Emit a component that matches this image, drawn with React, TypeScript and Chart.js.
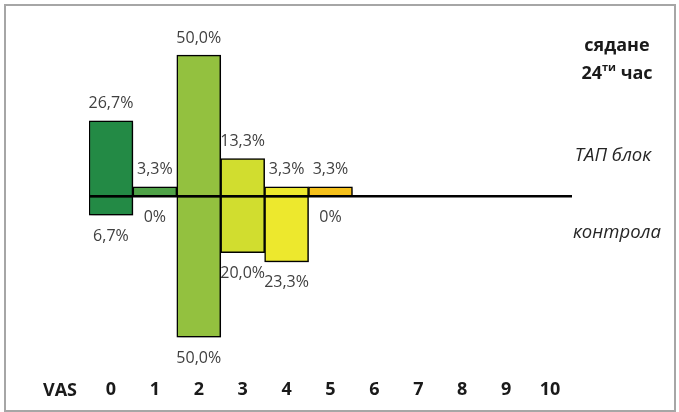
import { useEffect, useRef } from "react";
import { Chart, registerables } from "chart.js";

Chart.register(...registerables);

// ---- data ----
const vasLabels = ["0", "1", "2", "3", "4", "5", "6", "7", "8", "9", "10"];
const tapBlock: (number | null)[] = [26.7, 3.3, 50.0, 13.3, 3.3, 3.3, null, null, null, null, null];
const control: (number | null)[] = [6.7, 0, 50.0, 20.0, 23.3, 0, null, null, null, null, null];
const barColors = ["#238A45", "#4FA247", "#93C13F", "#D1DD2F", "#EDE82D", "#F5C01B", "#F5C01B", "#F5C01B", "#F5C01B", "#F5C01B", "#F5C01B"];
const seriesNames = ["ТАП блок", "контрола"];
const titleMain = "сядане";
const titleHour = "24";
const titleSup = "ти";
const titleUnit = " час";
const axisName = "VAS";

const FONT = '"Open Sans", "Noto Sans", sans-serif';

const fmt = (v: number) => (v === 0 ? "0%" : v.toFixed(1).replace(".", ",") + "%");

const decorPlugin = {
  id: "decor",
  beforeDraw(chart: any) {
    const { ctx } = chart;
    ctx.save();
    ctx.fillStyle = "#ffffff";
    ctx.fillRect(0, 0, chart.width, chart.height);
    ctx.strokeStyle = "#a6a6a6";
    ctx.lineWidth = 2;
    ctx.strokeRect(5, 5, 670, 406);
    ctx.restore();
  },
  beforeDatasetDraw(chart: any) {
    const { ctx } = chart;
    ctx.save();
    ctx.shadowColor = "rgba(0,0,0,0.35)";
    ctx.shadowBlur = 4;
    ctx.shadowOffsetX = 2;
    ctx.shadowOffsetY = 2;
  },
  afterDatasetDraw(chart: any) {
    chart.ctx.restore();
  },
  afterDatasetsDraw(chart: any) {
    const { ctx, chartArea, scales } = chart;
    const y0 = scales.y.getPixelForValue(0);
    ctx.save();
    // baseline
    ctx.strokeStyle = "#000000";
    ctx.lineWidth = 2.5;
    ctx.beginPath();
    ctx.moveTo(chartArea.left, y0);
    ctx.lineTo(chartArea.right, y0);
    ctx.stroke();

    // value labels
    ctx.font = `16px ${FONT}`;
    ctx.fillStyle = "#404040";
    ctx.textAlign = "center";
    ctx.textBaseline = "middle";
    const sources = [tapBlock, control];
    sources.forEach((src, di) => {
      src.forEach((v, j) => {
        if (v == null) return;
        const x = scales.x.getPixelForValue(j);
        const y = di === 0 ? scales.y.getPixelForValue(v) - 17 : scales.y.getPixelForValue(-v) + 21;
        ctx.fillText(fmt(v), x, y);
      });
    });

    // axis name
    const xTickY = chartArea.bottom + 25;
    ctx.font = `bold 18px ${FONT}`;
    ctx.fillStyle = "#1a1a1a";
    ctx.fillText(axisName, 60, xTickY);

    // title
    ctx.fillText(titleMain, 617, 46);
    const wH = ctx.measureText(titleHour).width;
    const wU = ctx.measureText(titleUnit).width;
    ctx.font = `bold 11px ${FONT}`;
    const wS = ctx.measureText(titleSup).width;
    const total = wH + wS + wU;
    let x = 617 - total / 2;
    ctx.textAlign = "left";
    ctx.font = `bold 18px ${FONT}`;
    ctx.fillText(titleHour, x, 74);
    x += wH;
    ctx.font = `bold 11px ${FONT}`;
    ctx.fillText(titleSup, x, 68);
    x += wS;
    ctx.font = `bold 18px ${FONT}`;
    ctx.fillText(titleUnit, x, 74);

    // series names
    ctx.textAlign = "center";
    ctx.font = `italic 18.5px ${FONT}`;
    ctx.fillStyle = "#262626";
    ctx.fillText(seriesNames[0], 613, 156);
    ctx.fillText(seriesNames[1], 617, 233);
    ctx.restore();
  },
};

export default function App() {
  const ref = useRef<HTMLCanvasElement>(null);
  useEffect(() => {
    document.body.style.margin = "0";
    const canvas = ref.current!;
    const chart = new Chart(canvas, {
      type: "bar",
      data: {
        labels: vasLabels,
        datasets: [
          {
            label: seriesNames[0],
            data: tapBlock,
            backgroundColor: barColors,
            borderColor: "#000000",
            borderWidth: 1.5,
            borderSkipped: false,
            barPercentage: 1,
            categoryPercentage: 1,
          },
          {
            label: seriesNames[1],
            data: control.map((v) => (v == null || v === 0 ? null : -v)),
            backgroundColor: barColors,
            borderColor: "#000000",
            borderWidth: 1.5,
            borderSkipped: false,
            barPercentage: 1,
            categoryPercentage: 1,
          },
        ],
      },
      options: {
        responsive: false,
        animation: false,
        events: [],
        layout: { padding: { left: 89, right: 107, top: 27, bottom: -3 } },
        plugins: { legend: { display: false }, tooltip: { enabled: false } },
        scales: {
          x: {
            stacked: true,
            grid: { display: false, drawTicks: false },
            border: { display: false },
            ticks: {
              padding: 14,
              maxRotation: 0,
              autoSkip: false,
              color: "#1a1a1a",
              font: { family: FONT, size: 18, weight: "bold" },
            },
          },
          y: {
            stacked: true,
            display: false,
            min: -60,
            max: 60,
          },
        },
      },
      plugins: [decorPlugin],
    });
    return () => chart.destroy();
  }, []);
  return <canvas ref={ref} width={679} height={412} style={{ display: "block", width: 679, height: 412 }} />;
}
